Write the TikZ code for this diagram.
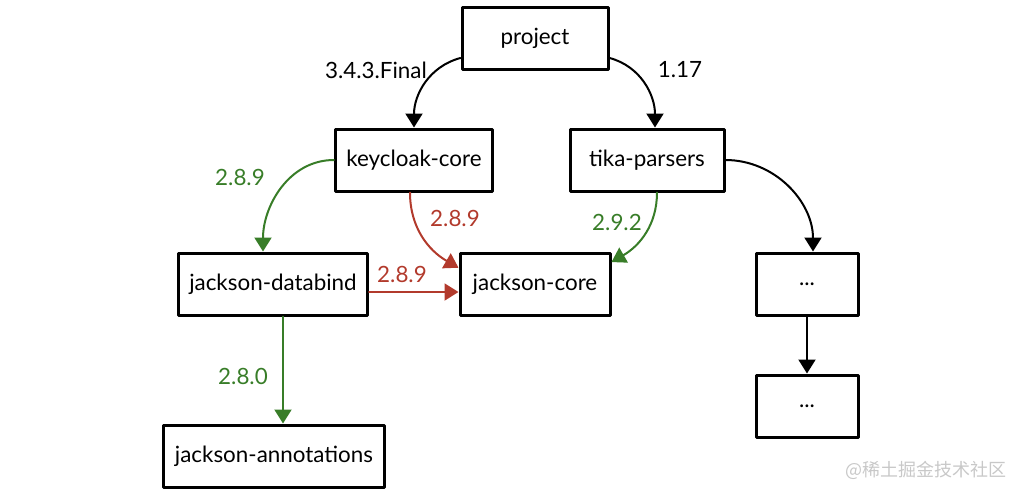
\documentclass[tikz,border=0pt]{standalone}
\usepackage{fontspec}
\setmainfont{Lato}
\newfontfamily\cjk{Noto Sans CJK SC}
\usetikzlibrary{arrows.meta,positioning}
\definecolor{depgreen}{RGB}{56,125,40}
\definecolor{depred}{RGB}{178,58,44}
\definecolor{markgray}{RGB}{200,200,200}
\begin{document}
\begin{tikzpicture}[x=0.5pt, y=-0.5pt, font=\fontsize{11.2}{13}\selectfont, line join=round, line cap=round,
  >={Triangle[width=8.5pt,length=7pt]},
  pkg/.style={draw, line width=1.5pt, minimum height=31pt, inner xsep=5.5pt, fill=white},
  dep/.style={->, line width=1pt},
  okdep/.style={dep, depgreen},
  baddep/.style={dep, depred}]
\useasboundingbox (0,0) rectangle (1024,500);
% packages
\node[pkg, minimum width=73pt] (project) at (535,38) {project};
\node[pkg] (keycloak) at (414,160) {keycloak-core};
\node[pkg, minimum width=77pt] (tika) at (647,160) {tika-parsers};
\node[pkg] (databind) at (273,284) {jackson-databind};
\node[pkg, minimum width=75pt] (core) at (535,284) {jackson-core};
\node[pkg, minimum width=51pt] (more) at (807,284) {...};
\node[pkg, minimum width=51pt] (moremore) at (807,406) {...};
\node[pkg] (annotations) at (274,456) {jackson-annotations};
% dependencies
\draw[dep] (project.195) to[out=195, in=90] (keycloak.north);
\draw[dep] (project.-15) to[out=-15, in=90] ([xshift=4pt]tika.north);
\draw[okdep] (keycloak.west) to[out=180, in=90] ([xshift=-5pt]databind.north);
\draw[baddep] ([xshift=-2pt]keycloak.south) to[out=-90, in=150] (core.168);
\draw[baddep] ([yshift=-4pt]databind.east) -- ([yshift=-4pt]core.west);
\draw[okdep] ([xshift=5pt]tika.south) to[out=-90, in=30] (core.16);
\draw[dep] (tika.east) to[out=0, in=90] ([xshift=3pt]more.north);
\draw[dep] (more.south) -- (moremore.north);
\draw[okdep] ([xshift=5pt]databind.south) -- ([xshift=5pt]databind.south |- annotations.north);
% versions
\node (vkeycloak) at (376,70) {3.4.3.Final};
\node (vtika) at (680,70) {1.17};
\node[text=depgreen] (vdatabind) at (240,177) {2.8.9};
\node[text=depred] (vcore) at (455,218) {2.8.9};
\node[text=depred] (vcore2) at (402,274) {2.8.9};
\node[text=depgreen] (vtikacore) at (617,222) {2.9.2};
\node[text=depgreen] (vannotations) at (243,376) {2.8.0};
\node[text=markgray, font=\cjk\fontsize{9}{11}\selectfont] (mark) at (926,470) {@稀土掘金技术社区};
\end{tikzpicture}
\end{document}
